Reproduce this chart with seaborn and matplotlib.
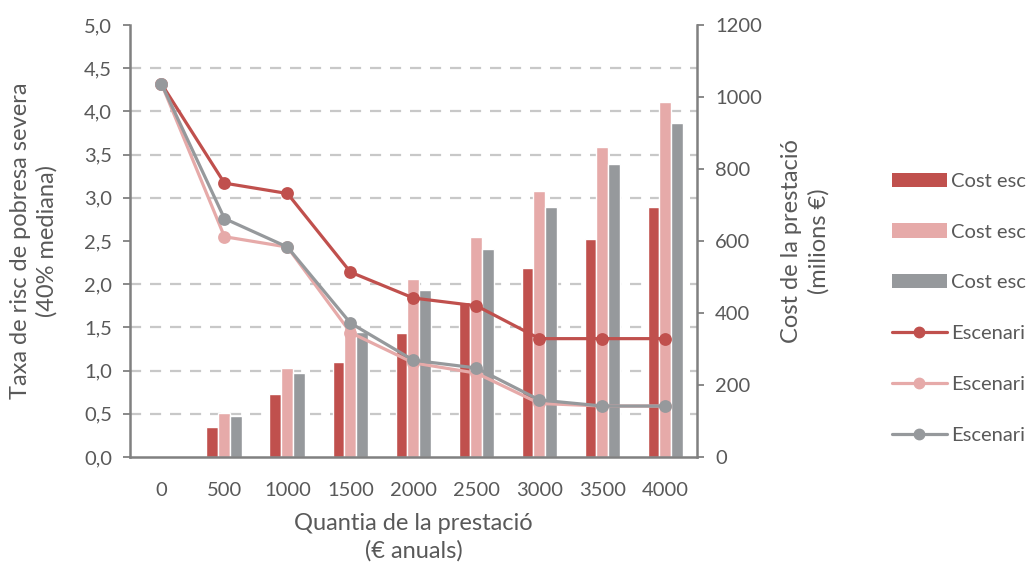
import numpy as np
import pandas as pd
import matplotlib
matplotlib.use("Agg")
import matplotlib.pyplot as plt
import seaborn as sns
from matplotlib.ticker import FuncFormatter, MultipleLocator
from matplotlib.patches import Patch
from matplotlib.lines import Line2D

# Benefit amounts (euros per year)
quantia = ["0", "500", "1000", "1500", "2000", "2500", "3000", "3500", "4000"]

# Severe poverty risk rate (%) per scenario
taxa_esc1 = [4.32, 3.17, 3.05, 2.14, 1.84, 1.75, 1.37, 1.37, 1.37]
taxa_esc2 = [4.32, 2.55, 2.43, 1.44, 1.09, 0.97, 0.62, 0.59, 0.59]
taxa_esc3 = [4.32, 2.76, 2.43, 1.55, 1.12, 1.03, 0.66, 0.59, 0.59]

# Cost of the benefit (millions of euros) per scenario
cost_esc1 = [0, 83, 175, 264, 345, 431, 525, 605, 695]
cost_esc2 = [0, 122, 248, 361, 494, 612, 740, 860, 985]
cost_esc3 = [0, 114, 234, 347, 464, 577, 695, 815, 927]

cost_series = ["cost_1", "cost_2", "cost_3"]
taxa_series = ["taxa_1", "taxa_2", "taxa_3"]
# Legend texts as printed at the figure edge
legend_texts = ["Cost esc", "Cost esc", "Cost esc", "Escenari", "Escenari", "Escenari"]

c_dark = "#C0504D"
c_pink = "#E6AAA9"
c_gray = "#96999C"
colors = [c_dark, c_pink, c_gray]

df_cost = pd.DataFrame({
    "quantia": quantia * 3,
    "cost": cost_esc1 + cost_esc2 + cost_esc3,
    "serie": sum([[s] * len(quantia) for s in cost_series], []),
})
df_taxa = pd.DataFrame({
    "quantia": quantia * 3,
    "taxa": taxa_esc1 + taxa_esc2 + taxa_esc3,
    "serie": sum([[s] * len(quantia) for s in taxa_series], []),
})

sns.set_theme(style="white")
plt.rcParams["font.family"] = ["Lato", "DejaVu Sans"]
text_col = "#595959"
spine_col = "#808080"
tick_fs = 14.5
label_fs = 17

fig = plt.figure(figsize=(10.33, 5.75), dpi=100)
ax1 = fig.add_axes([0.1258, 0.2052, 0.5489, 0.7513])
ax2 = ax1.twinx()

# Bars: cost on the right-hand axis
sns.barplot(data=df_cost, x="quantia", y="cost", hue="serie", order=quantia,
            hue_order=cost_series, palette=colors, width=0.57, saturation=1,
            ax=ax2, legend=False)

# Lines: poverty rate on the left-hand axis, drawn above the bars
sns.pointplot(data=df_taxa, x="quantia", y="taxa", hue="serie", order=quantia,
              hue_order=taxa_series, palette=colors, markers="o",
              markersize=7.5, linewidth=2.3, ax=ax1, legend=False)
ax1.set_zorder(ax2.get_zorder() + 1)
ax1.patch.set_visible(False)

ax1.set_xlim(-0.5, len(quantia) - 0.5)
ax2.set_xlim(-0.5, len(quantia) - 0.5)
ax1.set_ylim(0, 5.0)
ax2.set_ylim(0, 1200)

ax1.yaxis.set_major_locator(MultipleLocator(0.5))
ax1.yaxis.set_major_formatter(FuncFormatter(lambda v, p: f"{v:.1f}".replace(".", ",")))
ax2.yaxis.set_major_locator(MultipleLocator(200))

# Dashed grid behind the bars, aligned with the left-hand ticks
ax2.set_yticks(np.arange(0, 1201, 120), minor=True)
ax2.grid(which="minor", axis="y", linestyle=(0, (5, 4)), color="#C8C8C8", linewidth=1.6)
ax2.tick_params(which="minor", length=0)
ax1.grid(False)

for ax in (ax1, ax2):
    for s in ax.spines.values():
        s.set_visible(False)
ax1.spines["left"].set_visible(True)
ax1.spines["bottom"].set_visible(True)
ax2.spines["right"].set_visible(True)
for s in (ax1.spines["left"], ax1.spines["bottom"], ax2.spines["right"]):
    s.set_color(spine_col)
    s.set_linewidth(1.8)

ax1.tick_params(axis="y", which="major", left=True, length=5, width=1.3,
                color=spine_col, labelsize=tick_fs, labelcolor=text_col, pad=8)
ax2.tick_params(axis="y", which="major", right=True, length=5, width=1.3,
                color=spine_col, labelsize=tick_fs, labelcolor=text_col, pad=8)
ax1.tick_params(axis="x", bottom=False, labelsize=tick_fs, labelcolor=text_col, pad=12)
ax2.tick_params(axis="x", bottom=False, labelbottom=False)

ax1.set_xlabel("Quantia de la prestació\n(€ anuals)", fontsize=label_fs, color=text_col,
               labelpad=10, linespacing=1.35)
ax1.set_ylabel("Taxa de risc de pobresa severa\n(40% mediana)", fontsize=label_fs,
               color=text_col, labelpad=19, linespacing=1.3)
ax2.set_ylabel("Cost de la prestació\n(milions €)", fontsize=label_fs, color=text_col,
               labelpad=14, linespacing=1.3)

# Legend on the right side of the figure
handles = [Patch(facecolor=c, edgecolor="none") for c in colors]
handles += [Line2D([0], [0], color=c, linewidth=2.3, marker="o", markersize=7.5) for c in colors]
fig.legend(handles, legend_texts, loc="upper left", bbox_to_anchor=(0.8555, 0.714),
           frameon=False, fontsize=14.5, labelcolor=text_col, handlelength=2.75,
           handleheight=0.7, handletextpad=0.2, labelspacing=1.68, borderaxespad=0)

fig.savefig("out.png", dpi=100)
